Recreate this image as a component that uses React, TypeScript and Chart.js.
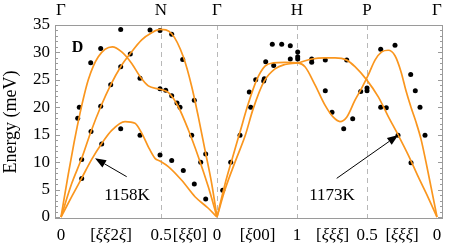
import React, { useEffect, useRef } from 'react';
import { Chart, registerables } from 'chart.js';
Chart.register(...registerables);

// Path coordinate (Γ=0, N=1.0, Γ=1.56, H=2.36, P=3.06, Γ=3.76), energy in meV
const curveA_x = [0, 0.073, 0.13, 0.19, 0.273, 0.373, 0.513, 0.607, 0.707, 0.79, 0.873, 0.99, 1.073, 1.173, 1.273, 1.373, 1.473, 1.56];
const curveA_E = [0, 7.8, 13.5, 18.9, 25.0, 29.2, 31.0, 30.1, 28.0, 25.6, 23.9, 23.3, 22.7, 20.1, 15.9, 11.0, 5.5, 0];

const curveB_x = [0, 0.107, 0.207, 0.30, 0.397, 0.497, 0.597, 0.693, 0.807, 0.907, 0.99, 1.107, 1.223, 1.307, 1.373, 1.44, 1.507, 1.56];
const curveB_E = [0, 6.1, 10.7, 15.6, 20.1, 24.1, 27.4, 29.8, 32.3, 33.6, 34.2, 33.4, 29.2, 23.8, 18.3, 12.2, 6.1, 0];

const curveC_x = [0, 0.107, 0.207, 0.307, 0.407, 0.507, 0.64, 0.74, 0.807, 0.873, 0.94, 0.99, 1.073, 1.207, 1.34, 1.473, 1.56];
const curveC_E = [0, 3.7, 7.1, 10.5, 13.4, 15.8, 17.4, 17.1, 15.3, 12.8, 10.7, 10.2, 9.2, 6.7, 3.7, 1.6, 0];

const curveD_x = [1.56, 1.64, 1.71, 1.79, 1.87, 1.957, 2.04, 2.123, 2.24, 2.367, 2.44, 2.54, 2.64, 2.723, 2.79, 2.857, 2.94, 3.007, 3.073, 3.14, 3.207, 3.273, 3.34, 3.40, 3.45, 3.50, 3.55, 3.60, 3.65, 3.70, 3.76];
const curveD_E = [0, 6.0, 10.5, 15.5, 20.5, 25.0, 27.5, 28.1, 28.2, 28.1, 27.4, 24.1, 20.4, 18.2, 17.4, 18.2, 21.3, 23.5, 25.9, 28.6, 30.1, 30.4, 29.4, 26.5, 23.0, 20.0, 17.3, 14.2, 10.0, 5.5, 0];

const curveE_x = [1.56, 1.64, 1.74, 1.843, 1.923, 2.033, 2.14, 2.24, 2.367, 2.507, 2.64, 2.74, 2.857, 2.94, 3.057, 3.173, 3.273, 3.373, 3.473, 3.573, 3.673, 3.76];
const curveE_E = [0, 5.0, 10.0, 14.9, 19.8, 24.8, 27.0, 27.8, 28.1, 28.8, 29.0, 29.0, 28.6, 27.4, 25.0, 21.9, 18.3, 14.9, 11.3, 7.3, 3.5, 0];

const expX = [
  0.597, 0.89, 0.99, 1.107, 0.397, 0.297, 0.693, 0.597, 1.217, 0.79, 0.497, 0.99, 1.047, 1.107, 1.16, 1.19, 1.333,
  0.183, 0.167, 0.397, 0.30, 0.597, 0.79, 0.407, 0.207, 0.207, 0.99, 1.107, 1.223, 1.307, 1.447, 1.397, 1.333, 1.447,
  2.113, 2.207, 2.293, 2.367, 2.367, 2.367, 2.293, 2.047, 2.127, 2.507, 2.507, 2.643, 2.857, 1.947, 2.033, 2.027,
  1.883, 1.897, 1.79, 1.697, 1.617, 2.643, 2.71, 2.827, 2.917, 2.997, 3.06, 3.06, 3.197, 3.34, 3.197, 3.253,
  3.497, 3.543, 3.59, 3.37, 3.64, 3.50,
];
const expE = [
  34.2, 34.1, 34.0, 33.3, 30.7, 28.1, 29.7, 27.4, 28.7, 25.3, 24.1, 23.4, 23.1, 22.1, 20.8, 20.0, 21.3,
  20.0, 18.0, 20.2, 15.6, 16.1, 14.9, 13.3, 10.5, 7.0, 11.3, 10.3, 8.5, 14.9, 11.5, 10.0, 6.0, 3.3,
  31.5, 31.5, 31.2, 30.1, 29.2, 28.8, 28.8, 28.3, 27.6, 28.8, 28.2, 28.6, 28.6, 25.0, 25.2, 24.8,
  22.8, 20.0, 14.9, 10.0, 4.9, 23.0, 19.1, 16.1, 17.9, 22.9, 23.5, 23.0, 30.6, 31.3, 20.0, 19.9,
  26.0, 23.0, 20.0, 14.9, 14.9, 9.9,
];

const dashX = [1.0, 1.56, 2.36, 3.06];
const topTickX = [0, 1.0, 1.56, 2.36, 3.06, 3.76];
const topTickLabels = ['Γ', 'N', 'Γ', 'H', 'P', 'Γ'];
const bottomTickX = [0, 0.5, 1.0, 1.29, 1.56, 1.965, 2.36, 2.717, 3.06, 3.41, 3.76];
const bottomTickLabels = ['0', '[ξξ2ξ]', '0.5', '[ξξ0]', '0', '[ξ00]', '1', '[ξξξ]', '0.5', '[ξξξ]', '0'];
const yTicks = [0, 5, 10, 15, 20, 25, 30, 35];

// annotations (data coordinates)
const notes = [
  { text: '1158K', tx: 0.66, tE: 4.0, ax0: 0.657, aE0: 7.35, ax1: 0.34, aE1: 10.7 },
  { text: '1173K', tx: 2.71, tE: 4.0, ax0: 2.757, aE0: 7.05, ax1: 3.373, aE1: 14.95 },
];

const ORANGE = 'rgb(250,150,30)';
const FONT = "'Liberation Serif', 'Times New Roman', serif";

function drawMixed(ctx: CanvasRenderingContext2D, text: string, cx: number, cy: number) {
  const chars = Array.from(text);
  const fontFor = (c: string) => (c === 'ξ' ? `italic 17px ${FONT}` : `17px ${FONT}`);
  let total = 0;
  const widths = chars.map((c) => {
    ctx.font = fontFor(c);
    const w = ctx.measureText(c).width;
    total += w;
    return w;
  });
  let xx = cx - total / 2;
  ctx.textAlign = 'left';
  ctx.textBaseline = 'middle';
  chars.forEach((c, i) => {
    ctx.font = fontFor(c);
    ctx.fillText(c, xx, cy);
    xx += widths[i];
  });
}

const decor = {
  id: 'decor',
  beforeDatasetsDraw(chart: any) {
    const { ctx, chartArea: ca, scales } = chart;
    const x = scales.x, y = scales.y;
    ctx.save();
    // dashed lines
    ctx.strokeStyle = '#b8b8b8';
    ctx.lineWidth = 1;
    ctx.setLineDash([5, 4]);
    for (const v of dashX) {
      const px = Math.round(x.getPixelForValue(v)) + 0.5;
      ctx.beginPath();
      ctx.moveTo(px, ca.top);
      ctx.lineTo(px, ca.bottom);
      ctx.stroke();
    }
    ctx.setLineDash([]);
    // frame
    ctx.strokeStyle = '#9a9a9a';
    ctx.strokeRect(Math.round(ca.left) + 0.5, Math.round(ca.top) + 0.5, Math.round(ca.width) - 1, Math.round(ca.height) - 1);
    // side ticks
    for (let v = 0; v <= 35; v++) {
      const py = Math.round(y.getPixelForValue(v)) + 0.5;
      const len = v % 5 === 0 ? 5 : 3;
      ctx.beginPath();
      ctx.moveTo(ca.left, py);
      ctx.lineTo(ca.left + len, py);
      ctx.moveTo(ca.right, py);
      ctx.lineTo(ca.right - len, py);
      ctx.stroke();
    }
    // top labels
    ctx.fillStyle = '#000';
    ctx.font = `17px ${FONT}`;
    ctx.textAlign = 'center';
    ctx.textBaseline = 'middle';
    topTickX.forEach((v, i) => {
      ctx.fillText(topTickLabels[i], x.getPixelForValue(v), 11);
    });
    // bottom labels (ξ italic)
    bottomTickX.forEach((v, i) => {
      drawMixed(ctx, bottomTickLabels[i], x.getPixelForValue(v), ca.bottom + 17);
    });
    ctx.restore();
  },
  afterDraw(chart: any) {
    const { ctx, chartArea: ca, scales } = chart;
    const x = scales.x, y = scales.y;
    ctx.save();
    ctx.fillStyle = '#000';
    ctx.strokeStyle = '#000';
    ctx.textAlign = 'center';
    ctx.textBaseline = 'middle';
    ctx.font = `bold 16px ${FONT}`;
    ctx.fillText('D', ca.left + 22.5, ca.top + 23);
    ctx.font = `17px ${FONT}`;
    for (const n of notes) {
      ctx.fillText(n.text, x.getPixelForValue(n.tx), y.getPixelForValue(n.tE));
      const x0 = x.getPixelForValue(n.ax0), y0 = y.getPixelForValue(n.aE0);
      const x1 = x.getPixelForValue(n.ax1), y1 = y.getPixelForValue(n.aE1);
      const ang = Math.atan2(y1 - y0, x1 - x0);
      const hl = 11, hw = 4.2;
      const bx = x1 - hl * Math.cos(ang), by = y1 - hl * Math.sin(ang);
      ctx.lineWidth = 1;
      ctx.beginPath();
      ctx.moveTo(x0, y0);
      ctx.lineTo(bx, by);
      ctx.stroke();
      ctx.beginPath();
      ctx.moveTo(x1, y1);
      ctx.lineTo(bx + hw * Math.sin(ang), by - hw * Math.cos(ang));
      ctx.lineTo(bx - hw * Math.sin(ang), by + hw * Math.cos(ang));
      ctx.closePath();
      ctx.fill();
    }
    ctx.restore();
  },
};

const toPts = (xs: number[], ys: number[]) => xs.map((v, i) => ({ x: v, y: ys[i] }));

export default function App() {
  const ref = useRef<HTMLCanvasElement>(null);
  useEffect(() => {
    const canvas = ref.current!;
    const curveStyle: any = {
      borderColor: ORANGE,
      borderWidth: 1.7,
      pointRadius: 0,
      fill: false,
      cubicInterpolationMode: 'monotone',
    };
    const chart = new Chart(canvas, {
      type: 'line',
      data: {
        datasets: [
          { ...curveStyle, data: toPts(curveA_x, curveA_E) },
          { ...curveStyle, data: toPts(curveB_x, curveB_E) },
          { ...curveStyle, data: toPts(curveC_x, curveC_E) },
          { ...curveStyle, data: toPts(curveD_x, curveD_E) },
          { ...curveStyle, data: toPts(curveE_x, curveE_E) },
          {
            data: toPts(expX, expE),
            showLine: false,
            pointRadius: 2.5,
            pointBackgroundColor: '#000',
            pointBorderWidth: 0,
            borderColor: '#000',
          } as any,
        ],
      },
      options: {
        responsive: false,
        animation: false,
        layout: { padding: { left: 0, right: 13, top: 25, bottom: 0 } },
        plugins: { legend: { display: false }, tooltip: { enabled: false } },
        scales: {
          x: {
            type: 'linear',
            min: -0.06,
            max: 3.82,
            grid: { display: false, drawTicks: false },
            border: { display: false },
            afterBuildTicks: (s: any) => { s.ticks = bottomTickX.map((v) => ({ value: v })); },
            afterFit: (s: any) => { s.height = 28; },
            ticks: { display: false, autoSkip: false, maxRotation: 0, minRotation: 0 },
          },
          y: {
            type: 'linear',
            min: -0.36,
            max: 35,
            grid: { display: false, drawTicks: false },
            border: { display: false },
            afterBuildTicks: (s: any) => { s.ticks = yTicks.map((v) => ({ value: v })); },
            afterFit: (s: any) => { s.width = 55; },
            ticks: { padding: 5, color: '#000', font: { size: 17, family: FONT } },
            title: { display: true, text: 'Energy (meV)', color: '#000', padding: 0, font: { size: 18, family: FONT } },
          },
        },
      } as any,
      plugins: [decor],
    });
    return () => chart.destroy();
  }, []);
  return (
    <div style={{ position: 'absolute', left: 0, top: 0, width: 456, height: 247, background: '#fff' }}>
      <canvas ref={ref} width={456} height={247} style={{ display: 'block' }} />
    </div>
  );
}
